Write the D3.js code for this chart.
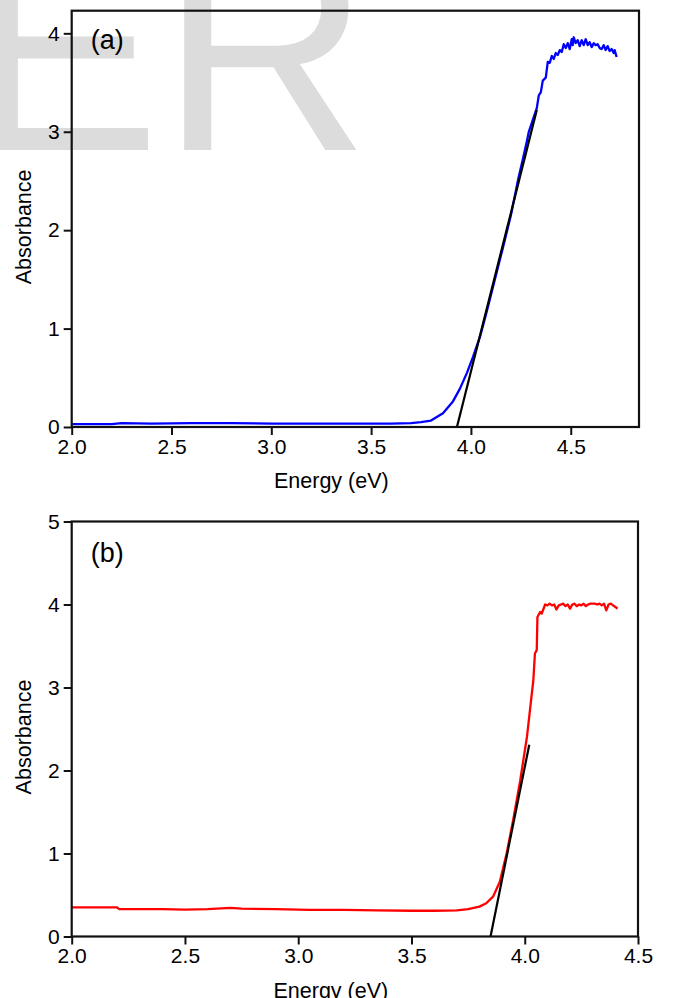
<!DOCTYPE html>
<html>
<head>
<meta charset="utf-8">
<script src="https://cdn.jsdelivr.net/npm/d3@7"></script>
<style>
  body { margin: 0; background: #fff; }
  svg { display: block; }
  .tick text { font-family: "Liberation Sans", Arial, sans-serif; font-size: 21px; fill: #000; }
  .axtitle { font-family: "Liberation Sans", Arial, sans-serif; font-size: 21.5px; fill: #000; }
  .plabel { font-family: "Liberation Sans", Arial, sans-serif; font-size: 27px; fill: #000; }
</style>
</head>
<body>
<svg width="673" height="998"></svg>
<script>
// panel (a) - blue curve
var energyA = [2.0, 2.2, 2.25, 2.4, 2.6, 2.8, 3.0, 3.2, 3.4, 3.6, 3.7, 3.75, 3.8, 3.86, 3.91, 3.945, 3.98, 4.01, 4.046, 4.08, 4.12, 4.16, 4.2, 4.237,
    4.26, 4.28, 4.29, 4.31, 4.33, 4.34, 4.35, 4.36, 4.375, 4.385, 4.395, 4.405, 4.415, 4.425, 4.435, 4.445, 4.455, 4.465, 4.475, 4.485, 4.495,
    4.505, 4.51, 4.515, 4.525, 4.535, 4.545, 4.555, 4.565, 4.575, 4.585, 4.595, 4.605, 4.615, 4.625, 4.635, 4.645, 4.655, 4.665, 4.675,
    4.685, 4.695, 4.705, 4.715, 4.72, 4.73];
var absA = [0.03, 0.03, 0.04, 0.035, 0.04, 0.04, 0.035, 0.035, 0.035, 0.035, 0.04, 0.05, 0.065, 0.14, 0.26, 0.39, 0.55, 0.71, 0.92, 1.18, 1.5, 1.82, 2.15, 2.52,
    2.72, 2.9, 3.0, 3.12, 3.24, 3.37, 3.40, 3.52, 3.55, 3.71, 3.70, 3.77, 3.74, 3.80, 3.78, 3.83, 3.81, 3.89, 3.85, 3.90, 3.84,
    3.94, 3.88, 3.96, 3.90, 3.93, 3.87, 3.93, 3.88, 3.94, 3.88, 3.91, 3.86, 3.90, 3.88, 3.89, 3.85, 3.84, 3.88, 3.83,
    3.87, 3.82, 3.84, 3.80, 3.83, 3.76];
var fitEnergyA = [3.93, 4.33];
var fitAbsA = [0, 3.22];

// panel (b) - red curve
var energyB = [2.0, 2.2, 2.21, 2.4, 2.5, 2.6, 2.7, 2.75, 2.9, 3.05, 3.2, 3.35, 3.5, 3.6, 3.7, 3.75, 3.8, 3.83, 3.86, 3.89, 3.92, 3.95, 3.98, 4.01,
    4.038, 4.045, 4.053, 4.056, 4.068, 4.075, 4.09, 4.1, 4.11, 4.12, 4.13, 4.14, 4.15, 4.16, 4.17, 4.18, 4.19, 4.2, 4.21, 4.22, 4.23,
    4.24, 4.25, 4.26, 4.27, 4.28, 4.29, 4.3, 4.31, 4.32, 4.33, 4.34, 4.35, 4.36, 4.37, 4.38, 4.39, 4.4, 4.41];
var absB = [0.35, 0.35, 0.33, 0.33, 0.325, 0.33, 0.345, 0.335, 0.33, 0.32, 0.32, 0.315, 0.31, 0.31, 0.315, 0.33, 0.36, 0.40, 0.48, 0.66, 1.0, 1.42, 1.88, 2.41,
    3.09, 3.41, 3.45, 3.85, 3.91, 3.89, 4.0, 3.99, 4.01, 3.99, 4.0, 3.94, 3.99, 4.0, 4.01, 3.98, 4.0, 3.95, 4.0, 4.01, 3.98,
    4.0, 3.99, 4.01, 3.98, 4.0, 4.01, 4.01, 4.01, 4.0, 4.01, 3.99, 4.01, 3.93, 4.0, 4.01, 3.99, 3.97, 3.95];
var fitEnergyB = [3.849, 4.02];
var fitAbsB = [0, 2.31];

var xTicksA = [2.0, 2.5, 3.0, 3.5, 4.0, 4.5];
var yTicksA = [0, 1, 2, 3, 4];
var xTicksB = [2.0, 2.5, 3.0, 3.5, 4.0, 4.5];
var yTicksB = [0, 1, 2, 3, 4, 5];

var svg = d3.select('svg');

// watermark behind everything
svg.append('text')
    .text('ER')
    .attr('x', -33)
    .attr('y', 150)
    .attr('font-family', '"Liberation Sans", Arial, sans-serif')
    .attr('font-size', 290)
    .attr('fill', '#dcdcdc');

function drawPanel(opt){

    var x = d3.scaleLinear().domain(opt.xdom).range([opt.left, opt.right]);
    var y = d3.scaleLinear().domain(opt.ydom).range([opt.bottom, opt.top]);

    var g = svg.append('g');

    g.append('g')
        .attr('transform', 'translate(0,' + opt.bottom + ')')
        .call(d3.axisBottom(x).tickValues(opt.xticks).tickFormat(d3.format('.1f')).tickSize(8).tickPadding(4))
        .call(function(a) { a.select('.domain').remove(); })
        .selectAll('line').attr('stroke', '#111').attr('stroke-width', 2);

    g.append('g')
        .attr('transform', 'translate(' + opt.left + ',0)')
        .call(d3.axisLeft(y).tickValues(opt.yticks).tickFormat(d3.format('d')).tickSize(8).tickPadding(4))
        .call(function(a) { a.select('.domain').remove(); })
        .selectAll('line').attr('stroke', '#111').attr('stroke-width', 2);

    var line = d3.line()
        .x(function(d) { return x(d[0]); })
        .y(function(d) { return y(d[1]); });

    g.append('path')
        .datum(d3.zip(opt.energy, opt.abs))
        .attr('d', line)
        .attr('fill', 'none')
        .attr('stroke', opt.color)
        .attr('stroke-width', 2.3)
        .attr('stroke-linejoin', 'round');

    g.append('path')
        .datum(d3.zip(opt.fitE, opt.fitA))
        .attr('d', line)
        .attr('fill', 'none')
        .attr('stroke', '#000')
        .attr('stroke-width', 2.2);

    g.append('rect')
        .attr('x', opt.left)
        .attr('y', opt.top)
        .attr('width', opt.right - opt.left)
        .attr('height', opt.bottom - opt.top)
        .attr('fill', 'none')
        .attr('stroke', '#111')
        .attr('stroke-width', 2.2);

    g.append('text')
        .attr('class', 'plabel')
        .attr('x', opt.left + 19)
        .attr('y', opt.top + opt.labelDy)
        .text(opt.label);

    g.append('text')
        .attr('class', 'axtitle')
        .attr('x', (opt.left + opt.right) / 2 - 24)
        .attr('y', opt.bottom + 61)
        .attr('text-anchor', 'middle')
        .text('Energy (eV)');

    g.append('text')
        .attr('class', 'axtitle')
        .attr('text-anchor', 'middle')
        .attr('transform', 'translate(' + (opt.left - 41) + ',' + ((opt.top + opt.bottom) / 2 + 8) + ')rotate(270)')
        .text('Absorbance');
}

drawPanel({
    left: 71.7, right: 639, top: 10.7, bottom: 427,
    xdom: [2, 4.842], ydom: [0, 4.23],
    xticks: xTicksA, yticks: yTicksA,
    energy: energyA, abs: absA, fitE: fitEnergyA, fitA: fitAbsA,
    color: '#0000ff', label: '(a)', labelDy: 38
});

drawPanel({
    left: 71.7, right: 638, top: 521.5, bottom: 936.5,
    xdom: [2, 4.5], ydom: [0, 5],
    xticks: xTicksB, yticks: yTicksB,
    energy: energyB, abs: absB, fitE: fitEnergyB, fitA: fitAbsB,
    color: '#ff0000', label: '(b)', labelDy: 40
});
</script>
</body>
</html>
